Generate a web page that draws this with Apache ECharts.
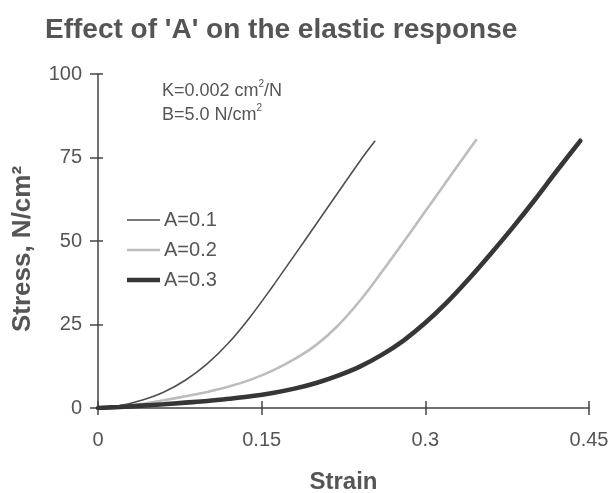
<!DOCTYPE html>
<html>
<head>
<meta charset="utf-8">
<script src="https://cdn.jsdelivr.net/npm/echarts@6/dist/echarts.min.js"></script>
<style>html,body{margin:0;padding:0;background:#fff}#c{width:612px;height:493px}</style>
</head>
<body>
<div id="c"></div>
<script>
const seriesNames = ['A=0.1', 'A=0.2', 'A=0.3'];
const xTicks = [0, 0.15, 0.3, 0.45];
const yTicks = [0, 25, 50, 75, 100];

const strainA1 = [0, 0.02, 0.04, 0.06, 0.08, 0.10, 0.12, 0.14, 0.16, 0.18, 0.20, 0.22, 0.24, 0.254];
const stressA1 = [0, 0.7, 2.3, 4.7, 8.3, 13.2, 19.6, 27.5, 36.4, 45.7, 55.1, 64.5, 73.9, 80.0];

const strainA2 = [0, 0.02, 0.04, 0.06, 0.08, 0.10, 0.12, 0.14, 0.16, 0.18, 0.20, 0.22, 0.24, 0.26, 0.28, 0.30, 0.32, 0.347];
const stressA2 = [0, 0.4, 1.2, 2.3, 3.5, 4.8, 6.4, 8.5, 11.2, 14.6, 18.9, 24.7, 32.1, 40.7, 49.7, 58.9, 68.1, 80.5];

const strainA3 = [0, 0.02, 0.04, 0.06, 0.08, 0.10, 0.12, 0.14, 0.16, 0.18, 0.20, 0.22, 0.24, 0.26, 0.28, 0.30, 0.32, 0.34, 0.36, 0.38, 0.40, 0.42, 0.442];
const stressA3 = [0, 0.3, 0.7, 1.1, 1.6, 2.1, 2.75, 3.5, 4.5, 5.8, 7.5, 9.7, 12.4, 15.9, 20.2, 25.5, 31.7, 38.7, 46.2, 54.0, 62.2, 70.8, 80.0];

function pairs(xs, ys) { return xs.map((x, i) => [x, ys[i]]); }

const chart = echarts.init(document.getElementById('c'), null, {renderer: 'canvas'});
const font = 'Liberation Sans, Arial, sans-serif';
const grid = {left: 98, right: 23, top: 74, bottom: 85, outerBoundsMode: 'none', containLabel: false};
const axCol = '#444';
const txtCol = '#555';
const c1 = '#4f4f4f', c2 = '#bdbdbd', c3 = '#363636';

chart.setOption({
  animation: false,
  backgroundColor: '#fff',
  title: {
    text: "Effect of 'A' on the elastic response",
    left: 40, top: 11,
    textStyle: {fontFamily: font, fontSize: 28, fontWeight: 'bold', color: '#555'}
  },
  grid: grid,
  legend: {
    orient: 'vertical',
    left: 122, top: 205,
    itemWidth: 33, itemHeight: 14, itemGap: 10,
    symbolKeepAspect: true,
    data: [
      {name: seriesNames[0], icon: 'path://M0,0h34v1.6h-34z'},
      {name: seriesNames[1], icon: 'path://M0,0h34v2.6h-34z'},
      {name: seriesNames[2], icon: 'path://M0,0h34v4.6h-34z'}
    ],
    textStyle: {fontFamily: font, fontSize: 20, color: txtCol, padding: [0, 0, 0, -1]}
  },
  xAxis: [{
    type: 'value', min: 0, max: 0.45, interval: 0.15,
    position: 'bottom',
    name: 'Strain', nameLocation: 'middle', nameGap: 62,
    nameTextStyle: {fontFamily: font, fontSize: 24, fontWeight: 'bold', color: '#555'},
    axisLine: {lineStyle: {color: axCol, width: 1.5}},
    axisTick: {show: true, inside: false, length: 7, lineStyle: {color: axCol, width: 1.5}},
    axisLabel: {fontFamily: font, fontSize: 20, color: txtCol, margin: 22,
      formatter: v => String(xTicks.find(t => Math.abs(t - v) < 1e-9) ?? '')},
    splitLine: {show: false}
  }, {
    type: 'value', min: 0, max: 0.45, interval: 0.15,
    position: 'bottom', offset: 0,
    axisLine: {show: false},
    axisTick: {show: true, inside: true, length: 7, lineStyle: {color: axCol, width: 1.5}},
    axisLabel: {show: false},
    splitLine: {show: false}
  }],
  yAxis: [{
    type: 'value', min: 0, max: 100, interval: 25,
    position: 'left',
    name: 'Stress, N/cm²', nameLocation: 'middle', nameGap: 62, nameRotate: 90,
    nameTextStyle: {fontFamily: font, fontSize: 26, fontWeight: 'bold', color: '#555', padding: [0, 16, 0, 0]},
    axisLine: {lineStyle: {color: axCol, width: 1.5}},
    axisTick: {show: true, inside: false, length: 8, lineStyle: {color: axCol, width: 1.5}},
    axisLabel: {fontFamily: font, fontSize: 20, color: txtCol, margin: 16},
    splitLine: {show: false}
  }, {
    type: 'value', min: 0, max: 100, interval: 25,
    position: 'left', offset: 0,
    axisLine: {show: false},
    axisTick: {show: true, inside: true, length: 5, lineStyle: {color: axCol, width: 1.5}},
    axisLabel: {show: false},
    splitLine: {show: false}
  }],
  graphic: [{
    type: 'text', left: 162, top: 79,
    style: {
      text: '{n|K=0.002 cm}{s|2}{n|/N}\n{n|B=5.0 N/cm}{s|2}',
      rich: {
        n: {fontFamily: font, fontSize: 18, fill: txtCol, lineHeight: 24},
        s: {fontFamily: font, fontSize: 10, fill: txtCol, verticalAlign: 'top', lineHeight: 24, padding: [0, 0, 10, 0]}
      },
      fill: txtCol
    }
  }],
  series: [{
    name: seriesNames[0], type: 'line', smooth: 0.35, showSymbol: false, symbol: 'none',
    data: pairs(strainA1, stressA1),
    lineStyle: {color: c1, width: 1.6},
    itemStyle: {color: c1}
  }, {
    name: seriesNames[1], type: 'line', smooth: 0.35, showSymbol: false, symbol: 'none',
    data: pairs(strainA2, stressA2),
    lineStyle: {color: c2, width: 2.6},
    itemStyle: {color: c2}
  }, {
    name: seriesNames[2], type: 'line', smooth: 0.35, showSymbol: false, symbol: 'none',
    data: pairs(strainA3, stressA3),
    lineStyle: {color: c3, width: 4.6, cap: 'round'},
    itemStyle: {color: c3}
  }]
});
</script>
</body>
</html>
